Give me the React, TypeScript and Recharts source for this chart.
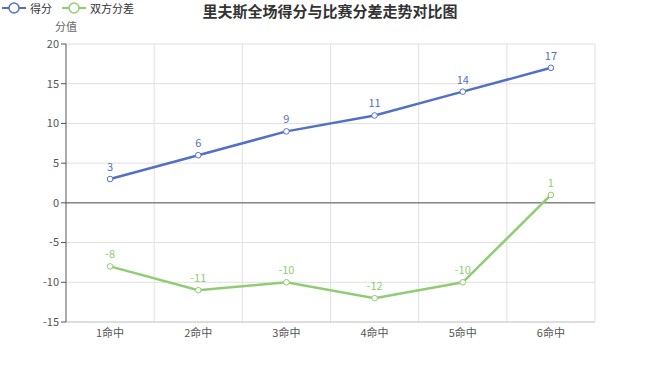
import { LineChart, Line, XAxis, YAxis, CartesianGrid, ReferenceLine, LabelList } from 'recharts';

const categories = ['1命中', '2命中', '3命中', '4命中', '5命中', '6命中'];
const scoreValues = [3, 6, 9, 11, 14, 17];
const diffValues = [-8, -11, -10, -12, -10, 1];
const yTicks = [-15, -10, -5, 0, 5, 10, 15, 20];

const SERIES = [
  { key: 'score', name: '得分', color: '#5470c6' },
  { key: 'diff', name: '双方分差', color: '#91cc75' },
];

const FONT = '"Noto Sans CJK SC", "Microsoft YaHei", sans-serif';

const data = categories.map((c, i) => ({
  name: c,
  score: scoreValues[i],
  diff: diffValues[i],
}));

// ECharts-style legend: a short line with a hollow circle
const LegendBox = () => (
  <div style={{ position: 'absolute', top: 0, left: 2, display: 'flex', gap: 10, fontSize: 11, color: '#333' }}>
    {SERIES.map(s => (
      <div key={s.key} style={{ display: 'flex', alignItems: 'center', gap: 4 }}>
        <svg width={24} height={14}>
          <line x1={0} y1={7} x2={24} y2={7} stroke={s.color} strokeWidth={2} />
          <circle cx={12} cy={7} r={5} fill="#fff" stroke={s.color} strokeWidth={1.5} />
        </svg>
        <span>{s.name}</span>
      </div>
    ))}
  </div>
);

const App = () => {
  return (
    <div style={{ position: 'absolute', left: 0, top: 0, width: 660, height: 367, background: '#fff', fontFamily: FONT }}>
      <div style={{ position: 'absolute', top: 0, left: 0, width: 660, textAlign: 'center', fontSize: 15, fontWeight: 'bold', color: '#333' }}>
        里夫斯全场得分与比赛分差走势对比图
      </div>
      <LegendBox />
      <div style={{ position: 'absolute', top: 18, left: 55, fontSize: 11, color: '#666' }}>分值</div>
      <LineChart width={660} height={367} data={data} margin={{ top: 44, right: 65, bottom: 15, left: 0 }}>
        <CartesianGrid
          stroke="#e0e0e0"
          verticalCoordinatesGenerator={({ offset }: any) =>
            categories.map((_, i) => offset.left + ((i + 1) * offset.width) / categories.length)
          }
        />
        <XAxis
          dataKey="name"
          scale="band"
          axisLine={{ stroke: '#ccc' }}
          tickLine={false}
          tick={{ fontSize: 11, fill: '#555', fontFamily: FONT }}
          height={30}
          tickMargin={1}
        />
        <YAxis
          domain={[-15, 20]}
          ticks={yTicks}
          width={66}
          axisLine={{ stroke: '#555' }}
          tickLine={{ stroke: '#555' }}
          tickSize={5}
          tick={{ fontSize: 11, fill: '#555', fontFamily: FONT }}
        />
        <ReferenceLine y={0} stroke="#555" />
        {SERIES.map(s => (
          <Line
            key={s.key}
            dataKey={s.key}
            name={s.name}
            stroke={s.color}
            strokeWidth={2.5}
            dot={{ r: 2.8, fill: '#fff', stroke: s.color, strokeWidth: 1 }}
            isAnimationActive={false}
          >
            <LabelList dataKey={s.key} position="top" offset={8} fill={s.color} fontSize={11} fontFamily={FONT} />
          </Line>
        ))}
      </LineChart>
    </div>
  );
};

export default App;
